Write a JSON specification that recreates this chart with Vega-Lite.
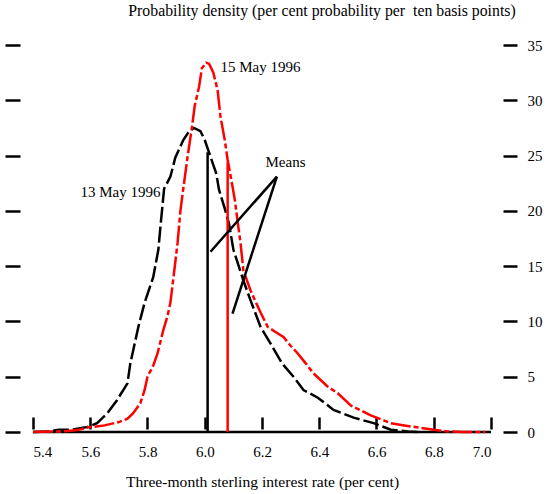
{
  "$schema": "https://vega.github.io/schema/vega-lite/v6.json",
  "width": 458,
  "height": 387,
  "autosize": {"type": "none"},
  "padding": {"left": 33, "top": 45, "right": 59, "bottom": 62},
  "background": "white",
  "config": {
    "view": {"stroke": null},
    "font": "'Liberation Serif', 'DejaVu Serif', serif",
    "axis": {"grid": false, "labelFont": "'Liberation Serif', 'DejaVu Serif', serif", "titleFont": "'Liberation Serif', 'DejaVu Serif', serif", "labelColor": "black", "titleColor": "black", "tickColor": "black", "labelFontSize": 15, "titleFontSize": 15.6, "titleFontWeight": "normal"},
    "title": {"font": "'Liberation Serif', 'DejaVu Serif', serif"},
    "text": {"font": "'Liberation Serif', 'DejaVu Serif', serif"}
  },
  "title": {"text": "Probability density (per cent probability per \u00a0ten basis points)", "anchor": "middle", "dx": 60, "offset": 18, "fontSize": 15.8, "fontWeight": "normal", "font": "'Liberation Serif', 'DejaVu Serif', serif", "color": "black"},
  "datasets": {
    "curves": [
      {"series": "13 May 1996", "x": 5.40, "y": 0},
      {"series": "13 May 1996", "x": 5.45, "y": 0.05},
      {"series": "13 May 1996", "x": 5.49, "y": 0.2},
      {"series": "13 May 1996", "x": 5.53, "y": 0.2},
      {"series": "13 May 1996", "x": 5.59, "y": 0.45},
      {"series": "13 May 1996", "x": 5.624, "y": 0.8},
      {"series": "13 May 1996", "x": 5.66, "y": 1.7},
      {"series": "13 May 1996", "x": 5.694, "y": 2.9},
      {"series": "13 May 1996", "x": 5.73, "y": 4.4},
      {"series": "13 May 1996", "x": 5.74, "y": 6.2},
      {"series": "13 May 1996", "x": 5.768, "y": 9.5},
      {"series": "13 May 1996", "x": 5.79, "y": 11.7},
      {"series": "13 May 1996", "x": 5.82, "y": 14.0},
      {"series": "13 May 1996", "x": 5.838, "y": 16.5},
      {"series": "13 May 1996", "x": 5.845, "y": 18.5},
      {"series": "13 May 1996", "x": 5.858, "y": 22.0},
      {"series": "13 May 1996", "x": 5.88, "y": 23.1},
      {"series": "13 May 1996", "x": 5.897, "y": 24.8},
      {"series": "13 May 1996", "x": 5.925, "y": 26.4},
      {"series": "13 May 1996", "x": 5.943, "y": 27.1},
      {"series": "13 May 1996", "x": 5.962, "y": 27.5},
      {"series": "13 May 1996", "x": 5.985, "y": 27.2},
      {"series": "13 May 1996", "x": 6.0, "y": 26.4},
      {"series": "13 May 1996", "x": 6.02, "y": 24.9},
      {"series": "13 May 1996", "x": 6.04, "y": 23.4},
      {"series": "13 May 1996", "x": 6.05, "y": 21.9},
      {"series": "13 May 1996", "x": 6.07, "y": 20.2},
      {"series": "13 May 1996", "x": 6.085, "y": 18.8},
      {"series": "13 May 1996", "x": 6.10, "y": 16.5},
      {"series": "13 May 1996", "x": 6.135, "y": 13.7},
      {"series": "13 May 1996", "x": 6.16, "y": 11.9},
      {"series": "13 May 1996", "x": 6.195, "y": 9.5},
      {"series": "13 May 1996", "x": 6.23, "y": 8.0},
      {"series": "13 May 1996", "x": 6.27, "y": 6.2},
      {"series": "13 May 1996", "x": 6.31, "y": 5.0},
      {"series": "13 May 1996", "x": 6.345, "y": 3.8},
      {"series": "13 May 1996", "x": 6.395, "y": 3.1},
      {"series": "13 May 1996", "x": 6.45, "y": 2.0},
      {"series": "13 May 1996", "x": 6.52, "y": 1.3},
      {"series": "13 May 1996", "x": 6.59, "y": 0.8},
      {"series": "13 May 1996", "x": 6.65, "y": 0.2},
      {"series": "13 May 1996", "x": 6.71, "y": 0.05},
      {"series": "13 May 1996", "x": 6.75, "y": 0},
      {"series": "15 May 1996", "x": 5.40, "y": 0},
      {"series": "15 May 1996", "x": 5.50, "y": 0.05},
      {"series": "15 May 1996", "x": 5.55, "y": 0.15},
      {"series": "15 May 1996", "x": 5.59, "y": 0.4},
      {"series": "15 May 1996", "x": 5.65, "y": 0.6},
      {"series": "15 May 1996", "x": 5.70, "y": 0.9},
      {"series": "15 May 1996", "x": 5.73, "y": 1.2},
      {"series": "15 May 1996", "x": 5.75, "y": 1.7},
      {"series": "15 May 1996", "x": 5.775, "y": 2.6},
      {"series": "15 May 1996", "x": 5.79, "y": 3.8},
      {"series": "15 May 1996", "x": 5.80, "y": 5.0},
      {"series": "15 May 1996", "x": 5.82, "y": 6.0},
      {"series": "15 May 1996", "x": 5.835, "y": 7.1},
      {"series": "15 May 1996", "x": 5.855, "y": 9.2},
      {"series": "15 May 1996", "x": 5.87, "y": 10.5},
      {"series": "15 May 1996", "x": 5.88, "y": 11.7},
      {"series": "15 May 1996", "x": 5.895, "y": 14.9},
      {"series": "15 May 1996", "x": 5.905, "y": 17.1},
      {"series": "15 May 1996", "x": 5.915, "y": 20.0},
      {"series": "15 May 1996", "x": 5.925, "y": 22.0},
      {"series": "15 May 1996", "x": 5.94, "y": 24.9},
      {"series": "15 May 1996", "x": 5.955, "y": 27.5},
      {"series": "15 May 1996", "x": 5.965, "y": 29.5},
      {"series": "15 May 1996", "x": 5.98, "y": 31.2},
      {"series": "15 May 1996", "x": 5.99, "y": 32.9},
      {"series": "15 May 1996", "x": 6.005, "y": 33.4},
      {"series": "15 May 1996", "x": 6.015, "y": 33.3},
      {"series": "15 May 1996", "x": 6.03, "y": 32.5},
      {"series": "15 May 1996", "x": 6.045, "y": 30.9},
      {"series": "15 May 1996", "x": 6.055, "y": 28.5},
      {"series": "15 May 1996", "x": 6.07, "y": 26.4},
      {"series": "15 May 1996", "x": 6.08, "y": 24.6},
      {"series": "15 May 1996", "x": 6.095, "y": 22.5},
      {"series": "15 May 1996", "x": 6.105, "y": 21.0},
      {"series": "15 May 1996", "x": 6.115, "y": 19.0},
      {"series": "15 May 1996", "x": 6.125, "y": 17.1},
      {"series": "15 May 1996", "x": 6.135, "y": 14.6},
      {"series": "15 May 1996", "x": 6.16, "y": 12.8},
      {"series": "15 May 1996", "x": 6.195, "y": 10.8},
      {"series": "15 May 1996", "x": 6.22, "y": 9.5},
      {"series": "15 May 1996", "x": 6.25, "y": 9.0},
      {"series": "15 May 1996", "x": 6.275, "y": 8.6},
      {"series": "15 May 1996", "x": 6.30, "y": 7.8},
      {"series": "15 May 1996", "x": 6.325, "y": 7.1},
      {"series": "15 May 1996", "x": 6.35, "y": 6.3},
      {"series": "15 May 1996", "x": 6.38, "y": 5.3},
      {"series": "15 May 1996", "x": 6.43, "y": 4.1},
      {"series": "15 May 1996", "x": 6.465, "y": 3.5},
      {"series": "15 May 1996", "x": 6.51, "y": 2.4},
      {"series": "15 May 1996", "x": 6.55, "y": 1.9},
      {"series": "15 May 1996", "x": 6.58, "y": 1.5},
      {"series": "15 May 1996", "x": 6.62, "y": 1.1},
      {"series": "15 May 1996", "x": 6.65, "y": 0.8},
      {"series": "15 May 1996", "x": 6.72, "y": 0.5},
      {"series": "15 May 1996", "x": 6.80, "y": 0.2},
      {"series": "15 May 1996", "x": 6.85, "y": 0.05},
      {"series": "15 May 1996", "x": 6.90, "y": 0},
      {"series": "15 May 1996", "x": 6.98, "y": 0}
    ],
    "means": [
      {"series": "13 May 1996", "x": 6.01, "y0": 0, "y": 25.3},
      {"series": "15 May 1996", "x": 6.08, "y0": 0, "y": 24.4}
    ],
    "pointers": [
      {"x": 6.252, "y": 23.1, "x2": 6.02, "y2": 16.3},
      {"x": 6.252, "y": 23.1, "x2": 6.097, "y2": 10.7}
    ]
  },
  "layer": [
    {
      "data": {"values": [{"x": 5.4, "x2": 7.0, "y": 0}]},
      "mark": {"type": "rule", "color": "black", "strokeWidth": 2.5},
      "encoding": {
        "x": {"field": "x", "type": "quantitative", "scale": {"domain": [5.4, 7.0], "nice": false, "zero": false},
          "axis": {"orient": "bottom", "values": [5.4, 5.6, 5.8, 6.0, 6.2, 6.4, 6.6, 6.8, 7.0], "format": ".1f", "domain": false, "offset": -15, "tickSize": 12, "tickWidth": 2.5, "labelPadding": 15, "title": "Three-month sterling interest rate (per cent)", "titlePadding": 15}},
        "x2": {"field": "x2"},
        "y": {"field": "y", "type": "quantitative", "scale": {"domain": [0, 35], "nice": false},
          "axis": {"orient": "left", "values": [0, 5, 10, 15, 20, 25, 30, 35], "labels": false, "domain": false, "offset": 13, "tickSize": 15, "tickWidth": 2.5, "title": null}}
      }
    },
    {
      "data": {"name": "curves"},
      "transform": [{"filter": "datum.series === '13 May 1996'"}],
      "mark": {"type": "line", "color": "black", "strokeWidth": 2.5, "strokeDash": [16, 4]},
      "encoding": {
        "x": {"field": "x", "type": "quantitative"},
        "y": {"field": "y", "type": "quantitative",
          "axis": {"orient": "right", "values": [0, 5, 10, 15, 20, 25, 30, 35], "domain": false, "offset": 12, "tickSize": 14, "tickWidth": 2.5, "labelPadding": 10, "title": null}}
      }
    },
    {
      "data": {"name": "curves"},
      "transform": [{"filter": "datum.series === '15 May 1996'"}],
      "mark": {"type": "line", "color": "#ff0000", "strokeWidth": 2.5, "strokeDash": [20, 3, 5, 3]},
      "encoding": {
        "x": {"field": "x", "type": "quantitative"},
        "y": {"field": "y", "type": "quantitative", "axis": null}
      }
    },
    {
      "data": {"name": "means"},
      "mark": {"type": "rule", "strokeWidth": 2.5},
      "encoding": {
        "x": {"field": "x", "type": "quantitative"},
        "y": {"field": "y0", "type": "quantitative", "axis": null},
        "y2": {"field": "y"},
        "color": {"field": "series", "type": "nominal", "scale": {"domain": ["13 May 1996", "15 May 1996"], "range": ["black", "#ff0000"]}, "legend": null}
      }
    },
    {
      "data": {"name": "pointers"},
      "mark": {"type": "rule", "color": "black", "strokeWidth": 2.5},
      "encoding": {
        "x": {"field": "x", "type": "quantitative"},
        "y": {"field": "y", "type": "quantitative", "axis": null},
        "x2": {"field": "x2"},
        "y2": {"field": "y2"}
      }
    },
    {
      "data": {"values": [{"text": "13 May 1996", "x": 5.845, "y": 21.7}]},
      "mark": {"type": "text", "fontSize": 15, "color": "black", "baseline": "middle", "align": "right"},
      "encoding": {
        "x": {"field": "x", "type": "quantitative"},
        "y": {"field": "y", "type": "quantitative", "axis": null},
        "text": {"field": "text"}
      }
    },
    {
      "data": {"values": [{"text": "15 May 1996", "x": 6.055, "y": 33.0}]},
      "mark": {"type": "text", "fontSize": 15, "color": "black", "baseline": "middle", "align": "left"},
      "encoding": {
        "x": {"field": "x", "type": "quantitative"},
        "y": {"field": "y", "type": "quantitative", "axis": null},
        "text": {"field": "text"}
      }
    },
    {
      "data": {"values": [{"text": "Means", "x": 6.282, "y": 24.4}]},
      "mark": {"type": "text", "fontSize": 15, "color": "black", "baseline": "middle", "align": "center"},
      "encoding": {
        "x": {"field": "x", "type": "quantitative"},
        "y": {"field": "y", "type": "quantitative", "axis": null},
        "text": {"field": "text"}
      }
    }
  ],
  "resolve": {"axis": {"y": "independent"}}
}
